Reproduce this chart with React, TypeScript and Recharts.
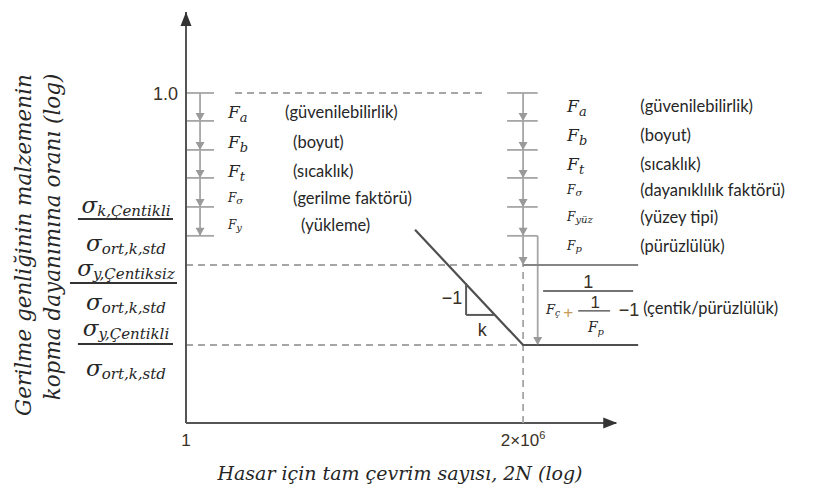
import React from 'react';
import { ComposedChart, Line, XAxis, YAxis, ReferenceLine, ReferenceDot } from 'recharts';

// S-N diagram: cycles to failure (2N) vs. stress amplitude ratio, both on log scales
const snCycles = [1.91e4, 2e6, 2.83e8];
const snRatio = [0.35, 0.1445, 0.1445];
const snData = snCycles.map((n, i) => ({ n, r: snRatio[i] }));

const kneeCycles = 2e6;
const xTicks = [1, 2e6];
const yTicks = [1];

// ratio after each successive reduction factor (1.0 -> Fa -> Fb -> Ft -> Fσ -> Fy)
const factorLevels = [1.0, 0.807, 0.646, 0.521, 0.417, 0.334];
const unnotchedLimit = 0.267;
const notchedLimit = 0.1445;

// slope triangle on the sloped branch
const slopeTop = { n: 1.72e5, r: 0.2323 };
const slopeCorner = { n: 1.72e5, r: 0.182 };
const slopeEnd = { n: 6.0e5, r: 0.182 };

const leftSubs = ['a', 'b', 't', 'σ', 'y'];
const leftNames = ['(güvenilebilirlik)', '(boyut)', '(sıcaklık)', '(gerilme faktörü)', '(yükleme)'];
const rightSubs = ['a', 'b', 't', 'σ', 'yüz', 'p'];
const rightNames = ['(güvenilebilirlik)', '(boyut)', '(sıcaklık)', '(dayanıklılık faktörü)', '(yüzey tipi)', '(pürüzlülük)'];

const ratioLabels = [
  { num: 'k,Çentikli', den: 'ort,k,std' },
  { num: 'y,Çentiksiz', den: 'ort,k,std' },
  { num: 'y,Çentikli', den: 'ort,k,std' },
];

const yTitle = ['Gerilme genliğinin malzemenin', 'kopma dayanımına oranı (log)'];
const xTitle = 'Hasar için tam çevrim sayısı, 2N (log)';

// label layout (data units: cycles, ratio)
const leftRows = [0.864, 0.687, 0.55, 0.447, 0.363];
const leftNameX = [71, 100, 100, 100, 141];
const rightRows = [0.905, 0.724, 0.58, 0.475, 0.386, 0.309];
const fracRows = [
  { num: 0.398, bar: 0.38, den: 0.297, from: 0.00955, to: 0.571 },
  { num: 0.2455, bar: 0.2326, den: 0.1885, from: 0.00678, to: 0.679 },
  { num: 0.1545, bar: 0.1457, den: 0.1135, from: 0.00955, to: 0.571 },
];
const yTitleAt = [
  { n: 0.000935, r: 0.3113 },
  { n: 0.00314, r: 0.3311 },
];

const MATH = '"DejaVu Serif", serif';
const SANS = 'Lato, "Liberation Sans", sans-serif';
const NUM = '"Liberation Sans", Arial, sans-serif';
const INK = '#262626';
const NUM_INK = '#3a3126';
const GUIDE = '#a6a6a6';
const AXIS = '#555555';

type DotProps = { cx?: number; cy?: number };
const at = (draw: (x: number, y: number) => React.ReactElement) => (p: DotProps) =>
  draw(p.cx ?? 0, p.cy ?? 0);

const downHead = (color: string) =>
  at((x, y) => <polygon points={`${x - 4.5},${y - 8} ${x + 4.5},${y - 8} ${x},${y}`} fill={color} />);

const factorSymbol = (sub: string, small: boolean) =>
  at((x, y) => (
    <text x={x} y={y + (small ? 4 : 6)} fontFamily={MATH} fontStyle="italic" fontSize={small ? 12 : 17} fill={INK}>
      F<tspan fontSize={small ? 10 : 13} dy={small ? 2 : 4}>{sub}</tspan>
    </text>
  ));

const note = (content: React.ReactNode, size: number, family = SANS, anchor: 'start' | 'middle' | 'end' = 'start', color = INK, italic = false) =>
  at((x, y) => (
    <text
      x={x}
      y={y}
      textAnchor={anchor}
      dominantBaseline="central"
      fontFamily={family}
      fontStyle={italic ? 'italic' : 'normal'}
      fontSize={size}
      fill={color}
    >
      {content}
    </text>
  ));

const sigma = (sub: string) =>
  at((x, y) => (
    <text x={x} y={y} textAnchor="middle" fontFamily={MATH} fontStyle="italic" fill={INK}>
      <tspan fontSize={23}>σ</tspan>
      <tspan fontSize={15} dy={3}>{sub}</tspan>
    </text>
  ));

const XTick = (props: any) => {
  const { x, y, payload } = props;
  const v = payload.value as number;
  const exp = Math.floor(Math.log10(v));
  const mant = Math.round(v / Math.pow(10, exp));
  return (
    <text x={x} y={y + 15} textAnchor="middle" fontFamily={NUM} fontSize={17} fill={NUM_INK}>
      {exp === 0 ? String(mant) : (
        <>
          {mant}×10<tspan dy={-7} fontSize={11}>{exp}</tspan>
        </>
      )}
    </text>
  );
};

const YTick = (props: any) => {
  const { x, y, payload } = props;
  return (
    <text x={x} y={y + 1} textAnchor="end" dominantBaseline="central" fontFamily={NUM} fontSize={18} fill={NUM_INK}>
      {(payload.value as number).toFixed(1)}
    </text>
  );
};

const seg = (x1: number, y1: number, x2: number, y2: number) => [
  { x: x1, y: y1 },
  { x: x2, y: y2 },
];

export default function App() {
  const guide = { stroke: GUIDE, strokeWidth: 1.8, ifOverflow: 'visible' as const };
  const dashed = { ...guide, strokeDasharray: '7 5' };

  return (
    <div style={{ position: 'absolute', left: 0, top: 0, width: 813, height: 495, background: '#fff' }}>
      <ComposedChart width={813} height={495} data={snData} margin={{ top: 12, right: 13, bottom: 0, left: 0 }}>
        <XAxis
          dataKey="n"
          type="number"
          scale="log"
          domain={[1, 3.0e11]}
          ticks={xTicks}
          height={72}
          axisLine={false}
          tickLine={false}
          tick={<XTick />}
        />
        <YAxis
          type="number"
          scale="log"
          domain={[0.0794, 1.862]}
          ticks={yTicks}
          width={186}
          axisLine={{ stroke: AXIS, strokeWidth: 2 }}
          tickLine={false}
          tick={<YTick />}
        />

        {/* x axis line and arrow heads */}
        <ReferenceLine segment={seg(1, 0.0794, 1.1e8, 0.0794)} stroke={AXIS} strokeWidth={2} ifOverflow="visible" />
        <ReferenceDot
          x={1.15e8}
          y={0.0794}
          ifOverflow="visible"
          shape={at((x, y) => <polygon points={`${x - 14},${y - 5.5} ${x - 14},${y + 5.5} ${x},${y}`} fill="#333" />)}
        />
        <ReferenceDot
          x={1}
          y={1.862}
          ifOverflow="visible"
          shape={at((x, y) => <polygon points={`${x - 5.5},${y + 14} ${x + 5.5},${y + 14} ${x},${y}`} fill="#333" />)}
        />

        {/* dashed reference levels */}
        <ReferenceLine segment={seg(8.25, 1, 3.73e5, 1)} {...dashed} />
        <ReferenceLine segment={seg(1, unnotchedLimit, kneeCycles, unnotchedLimit)} {...dashed} />
        <ReferenceLine segment={seg(1, notchedLimit, kneeCycles, notchedLimit)} {...dashed} />
        <ReferenceLine segment={seg(kneeCycles, 0.0794, kneeCycles, unnotchedLimit)} {...dashed} />

        {/* left factor ladder */}
        <ReferenceLine segment={seg(1.83, factorLevels[0], 1.83, factorLevels[5])} {...guide} />
        {factorLevels.map((lv) => (
          <ReferenceLine key={`lt${lv}`} segment={seg(1, lv, 3.34, lv)} {...guide} />
        ))}
        {factorLevels.slice(1).map((lv) => (
          <ReferenceDot key={`la${lv}`} x={1.83} y={lv} ifOverflow="visible" shape={downHead('#9a9a9a')} />
        ))}

        {/* right factor ladder */}
        <ReferenceLine segment={seg(kneeCycles, factorLevels[0], kneeCycles, unnotchedLimit)} {...guide} />
        {factorLevels.map((lv) => (
          <ReferenceLine key={`rt${lv}`} segment={seg(1.005e6, lv, 3.75e6, lv)} {...guide} />
        ))}
        {[...factorLevels.slice(1), unnotchedLimit].map((lv) => (
          <ReferenceDot key={`ra${lv}`} x={kneeCycles} y={lv} ifOverflow="visible" shape={downHead('#9a9a9a')} />
        ))}
        <ReferenceLine segment={seg(3.75e6, factorLevels[5], 3.75e6, notchedLimit)} {...guide} />
        <ReferenceDot x={3.75e6} y={notchedLimit} ifOverflow="visible" shape={downHead('#9a9a9a')} />
        <ReferenceLine segment={seg(kneeCycles, unnotchedLimit, 2.83e8, unnotchedLimit)} stroke="#858585" strokeWidth={1.8} ifOverflow="visible" />

        {/* S-N curve */}
        <Line dataKey="r" stroke="#4f4f4f" strokeWidth={2.2} dot={false} isAnimationActive={false} />
        <ReferenceLine segment={seg(slopeTop.n, slopeTop.r, slopeCorner.n, slopeCorner.r)} stroke="#5a5a5a" strokeWidth={2} />
        <ReferenceLine segment={seg(slopeCorner.n, slopeCorner.r, slopeEnd.n, slopeEnd.r)} stroke="#5a5a5a" strokeWidth={2} />
        <ReferenceDot x={9.4e4} y={0.2073} ifOverflow="visible" shape={note('−1', 18, NUM, 'middle', NUM_INK)} />
        <ReferenceDot x={3.43e5} y={0.1622} ifOverflow="visible" shape={note('k', 18, NUM, 'middle', NUM_INK)} />

        {/* factor labels */}
        {leftSubs.map((s, i) => (
          <ReferenceDot key={`ls${s}`} x={6.1} y={leftRows[i]} ifOverflow="visible" shape={factorSymbol(s, i >= 3)} />
        ))}
        {leftNames.map((t, i) => (
          <ReferenceDot key={`ln${t}`} x={leftNameX[i]} y={leftRows[i]} ifOverflow="visible" shape={note(t, 16.5)} />
        ))}
        {rightSubs.map((s, i) => (
          <ReferenceDot key={`rs${s}`} x={1.33e7} y={rightRows[i]} ifOverflow="visible" shape={factorSymbol(s, i >= 3)} />
        ))}
        {rightNames.map((t, i) => (
          <ReferenceDot key={`rn${t}`} x={3.1e8} y={rightRows[i]} ifOverflow="visible" shape={note(t, 16.5)} />
        ))}

        {/* notch / roughness combination term */}
        <ReferenceDot x={3.29e7} y={0.2344} ifOverflow="visible" shape={note('1', 18, NUM, 'middle', NUM_INK)} />
        <ReferenceLine segment={seg(4.73e6, 0.2188, 2.28e8, 0.2188)} stroke="#444" strokeWidth={1.6} ifOverflow="visible" />
        <ReferenceDot
          x={7.28e6}
          y={0.189}
          ifOverflow="visible"
          shape={at((x, y) => (
            <text x={x} y={y + 4} textAnchor="middle" fontFamily={MATH} fontStyle="italic" fontSize={13} fill={INK}>
              F<tspan fontSize={9} dy={2}>ç</tspan>
            </text>
          ))}
        />
        <ReferenceDot x={1.39e7} y={0.186} ifOverflow="visible" shape={note('+', 17, NUM, 'middle', '#c99a55')} />
        <ReferenceDot x={4.44e7} y={0.201} ifOverflow="visible" shape={note('1', 17, NUM, 'middle', NUM_INK)} />
        <ReferenceLine segment={seg(2.14e7, 0.1877, 8.47e7, 0.1877)} stroke="#444" strokeWidth={1.4} ifOverflow="visible" />
        <ReferenceDot
          x={4.6e7}
          y={0.1647}
          ifOverflow="visible"
          shape={at((x, y) => (
            <text x={x} y={y + 4} textAnchor="middle" fontFamily={MATH} fontStyle="italic" fontSize={14} fill={INK}>
              F<tspan fontSize={10} dy={3}>p</tspan>
            </text>
          ))}
        />
        <ReferenceDot x={1.92e8} y={0.189} ifOverflow="visible" shape={note('−1', 18, NUM, 'middle', NUM_INK)} />
        <ReferenceDot x={3.51e8} y={0.192} ifOverflow="visible" shape={note('(çentik/pürüzlülük)', 16.5)} />

        {/* ratio labels left of the axis */}
        {ratioLabels.map((f, i) => (
          <ReferenceDot key={`fn${i}`} x={0.0755} y={fracRows[i].num} ifOverflow="visible" shape={sigma(f.num)} />
        ))}
        {ratioLabels.map((f, i) => (
          <ReferenceLine
            key={`fb${i}`}
            segment={seg(fracRows[i].from, fracRows[i].bar, fracRows[i].to, fracRows[i].bar)}
            stroke="#333"
            strokeWidth={2}
            ifOverflow="visible"
          />
        ))}
        {ratioLabels.map((f, i) => (
          <ReferenceDot key={`fd${i}`} x={0.0755} y={fracRows[i].den} ifOverflow="visible" shape={sigma(f.den)} />
        ))}

        {/* axis titles */}
        {yTitle.map((t, i) => (
          <ReferenceDot
            key={`yt${i}`}
            x={yTitleAt[i].n}
            y={yTitleAt[i].r}
            ifOverflow="visible"
            shape={at((x, y) => (
              <text
                x={x}
                y={y}
                transform={`rotate(-90 ${x} ${y})`}
                textAnchor="middle"
                dominantBaseline="central"
                fontFamily={MATH}
                fontStyle="italic"
                fontSize={21.5}
                fill={INK}
              >
                {t}
              </text>
            ))}
          />
        ))}
        <ReferenceDot x={1.0e4} y={0.0541} ifOverflow="visible" shape={note(xTitle, 19, MATH, 'middle', INK, true)} />
      </ComposedChart>
    </div>
  );
}
